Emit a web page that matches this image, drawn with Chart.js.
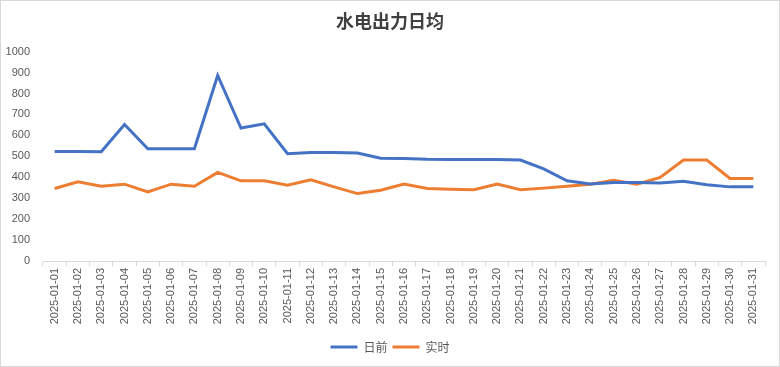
<!DOCTYPE html>
<html>
<head>
<meta charset="utf-8">
<script src="https://cdn.jsdelivr.net/npm/chart.js@4"></script>
<style>
    body { margin: 0; background: #fff; }
    .chart-box { width: 780px; height: 367px; box-sizing: border-box; border: 1px solid #d9d9d9; }
</style>
</head>
<body>
<div class="chart-box"><canvas id="hydroChart"></canvas></div>
<script>
const dates = [
    '2025-01-01', '2025-01-02', '2025-01-03', '2025-01-04', '2025-01-05', '2025-01-06', '2025-01-07', '2025-01-08',
    '2025-01-09', '2025-01-10', '2025-01-11', '2025-01-12', '2025-01-13', '2025-01-14', '2025-01-15', '2025-01-16',
    '2025-01-17', '2025-01-18', '2025-01-19', '2025-01-20', '2025-01-21', '2025-01-22', '2025-01-23', '2025-01-24',
    '2025-01-25', '2025-01-26', '2025-01-27', '2025-01-28', '2025-01-29', '2025-01-30', '2025-01-31'
];
const dayAhead = [
    523, 523, 522, 652, 536, 536, 536, 886, 635, 655, 512, 518, 518, 516, 491, 490,
    486, 485, 485, 485, 482, 440, 383, 368, 375, 375, 373, 381, 364, 354, 354
];
const realTime = [
    346, 378, 357, 367, 330, 367, 357, 423, 383, 383, 362, 388, 354, 322, 338, 367,
    346, 343, 340, 367, 340, 348, 357, 367, 386, 367, 399, 482, 482, 394, 394
];
const yTicks = [0, 1000, 100];

const tickFont = { family: '"Liberation Sans", "Noto Sans CJK SC", sans-serif', size: 11 };
const ctx = document.getElementById('hydroChart').getContext('2d');
const hydroChart = new Chart(ctx, {
    type: 'line',
    data: {
        labels: dates,
        datasets: [{
            label: '日前',
            data: dayAhead,
            borderColor: '#4472C4',
            backgroundColor: '#4472C4',
            borderWidth: 3,
            pointRadius: 0,
            tension: 0
        }, {
            label: '实时',
            data: realTime,
            borderColor: '#ED7D31',
            backgroundColor: '#ED7D31',
            borderWidth: 3,
            pointRadius: 0,
            tension: 0
        }]
    },
    options: {
        responsive: true,
        maintainAspectRatio: false,
        animation: false,
        layout: { padding: { left: 0, right: 0, top: 0, bottom: 3 } },
        plugins: {
            title: {
                display: true,
                text: '水电出力日均',
                color: '#404040',
                font: { family: '"Noto Sans CJK SC", sans-serif', size: 18, weight: 'bold' },
                padding: { top: 9, bottom: 20 }
            },
            legend: {
                position: 'bottom',
                labels: {
                    usePointStyle: true,
                    pointStyle: 'line',
                    pointStyleWidth: 27,
                    boxHeight: 12,
                    color: '#595959',
                    padding: 5,
                    font: { family: '"Noto Sans CJK SC", sans-serif', size: 12 }
                }
            },
            tooltip: { enabled: false }
        },
        scales: {
            x: {
                offset: true,
                grid: {
                    offset: true,
                    drawOnChartArea: false,
                    drawTicks: true,
                    tickLength: 5,
                    color: '#d9d9d9'
                },
                border: { color: '#d9d9d9' },
                ticks: {
                    autoSkip: false,
                    minRotation: 90,
                    maxRotation: 90,
                    padding: 2,
                    color: '#595959',
                    font: tickFont
                },
                afterFit: (scale) => { scale.height = 75; }
            },
            y: {
                min: yTicks[0],
                max: yTicks[1],
                grid: { display: false },
                border: { display: false },
                ticks: {
                    stepSize: yTicks[2],
                    padding: 5,
                    color: '#595959',
                    font: tickFont,
                    callback: (value) => String(value)
                },
                afterFit: (scale) => { scale.width = 42; }
            },
            // empty right-hand spacer so the plot ends short of the edge while the legend stays centred
            spacer: {
                type: 'linear',
                position: 'right',
                grid: { display: false },
                border: { display: false },
                ticks: { display: false },
                afterFit: (scale) => { scale.width = 14; }
            }
        }
    }
});
</script>
</body>
</html>
